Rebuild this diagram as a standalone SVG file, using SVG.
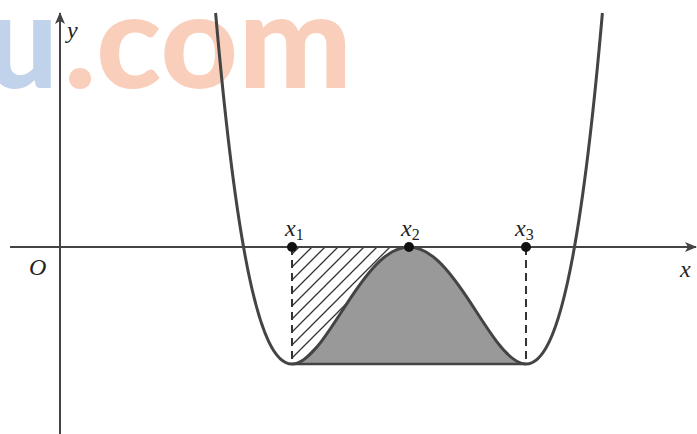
<svg xmlns="http://www.w3.org/2000/svg" width="697" height="434" viewBox="0 0 697 434">
<style>
.wm{font-family:Lato,"Open Sans",sans-serif;font-weight:900;font-size:132px}
.ax{stroke:#444;stroke-width:2;fill:none}
.lbl{font-family:"Liberation Serif","DejaVu Serif",serif;font-style:italic;font-size:24px;fill:#222}
.sub{font-family:"Liberation Serif","DejaVu Serif",serif;font-style:normal;font-size:16px;fill:#222}
.dash{stroke:#333;stroke-width:2;stroke-dasharray:8 5;fill:none}
.curve{stroke:#444;stroke-width:3;fill:none;stroke-linejoin:round}
</style>
<defs>
<marker id="arr" viewBox="0 0 12 10" refX="11" refY="5" markerWidth="12" markerHeight="10" markerUnits="userSpaceOnUse" orient="auto">
<path d="M0,0 L12,5 L0,10 L3,5 Z" fill="#444"/>
</marker>
<pattern id="hatch" patternUnits="userSpaceOnUse" width="13" height="13">
<path d="M-1,14 L14,-1 M-4,4 L4,-4 M9,17 L17,9" stroke="#333" stroke-width="1.3"/>
</pattern>
</defs>
<rect width="697" height="434" fill="#fff"/>
<g id="watermark">
<text class="wm" x="-14" y="88" fill="#c0d3ea" textLength="72" lengthAdjust="spacingAndGlyphs">u</text>
<text class="wm" x="64" y="88" fill="#f9cfbb" textLength="288" lengthAdjust="spacingAndGlyphs">.com</text>
</g>
<g id="regions">
<path id="shaded" d="M292,364 C301.75,364 311.5,354.41 321.25,341.61 C331,328.81 340.75,312.82 350.5,298.19 C360.25,283.57 370,270.31 379.75,261.17 C389.5,252.03 399.25,247 409,247 C418.75,247 428.5,252.03 438.25,261.17 C448,270.31 457.75,283.57 467.5,298.19 C477.25,312.82 487,328.81 496.75,341.61 C506.5,354.41 516.25,364 526,364 Z" fill="#999"/>
<path id="hatched" d="M292,247 L409,247 C399.25,247 389.5,252.03 379.75,261.17 C370,270.31 360.25,283.57 350.5,298.19 C340.75,312.82 331,328.81 321.25,341.61 C311.5,354.41 301.75,364 292,364 Z" fill="url(#hatch)"/>
</g>
<g id="axes">
<line class="ax" x1="10" y1="247" x2="696" y2="247" marker-end="url(#arr)"/>
<line class="ax" x1="60" y1="434" x2="60" y2="13" marker-end="url(#arr)"/>
</g>
<g id="guides">
<line class="dash" x1="292" y1="247" x2="292" y2="364"/>
<line class="dash" x1="526" y1="247" x2="526" y2="364"/>
<line x1="292" y1="364" x2="526" y2="364" stroke="#444" stroke-width="2.5"/>
</g>
<path id="graph" class="curve" d="M215.6,13 C225.47,126 235.33,203.13 245.2,256.17 C253,298.1 260.8,324.88 268.6,341.35 C276.4,357.82 284.2,364 292,364 C301.75,364 311.5,354.41 321.25,341.61 C331,328.81 340.75,312.82 350.5,298.19 C360.25,283.57 370,270.31 379.75,261.17 C389.5,252.03 399.25,247 409,247 C418.75,247 428.5,252.03 438.25,261.17 C448,270.31 457.75,283.57 467.5,298.19 C477.25,312.82 487,328.81 496.75,341.61 C506.5,354.41 516.25,364 526,364 C533.8,364 541.6,357.82 549.4,341.35 C557.2,324.88 565,298.1 572.8,256.17 C582.67,203.13 592.53,126 602.4,13"/>
<g id="points" fill="#111">
<circle cx="292" cy="247" r="5"/>
<circle cx="409" cy="247" r="5"/>
<circle cx="526" cy="247" r="5"/>
</g>
<g id="labels">
<text class="lbl" x="67" y="38">y</text>
<text class="lbl" x="29" y="275">O</text>
<text class="lbl" x="680" y="277">x</text>
<text class="lbl" x="285" y="236">x<tspan class="sub" dy="4">1</tspan></text>
<text class="lbl" x="401" y="236">x<tspan class="sub" dy="4">2</tspan></text>
<text class="lbl" x="515" y="236">x<tspan class="sub" dy="4">3</tspan></text>
</g>
</svg>
